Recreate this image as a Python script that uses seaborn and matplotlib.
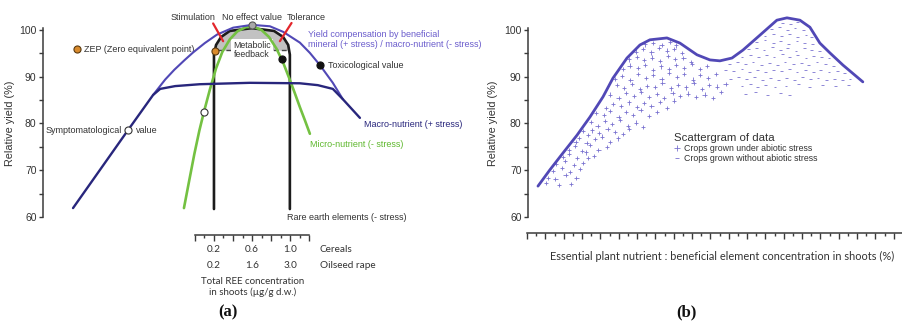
import matplotlib
matplotlib.use("Agg")
import matplotlib.pyplot as plt
import matplotlib.transforms as mtransforms
import numpy as np
import pandas as pd
import seaborn as sns

W, H = 903, 323

# ---------------- Panel (a): conceptual yield-response curves ----------------
# x is a relative concentration index (0-100), y is relative yield (%)
macro_x = [7.2, 20.4, 26.4, 28.1, 31.7, 37.6, 49.6, 61.6, 65.9, 69.5, 71.9, 76.0]
macro_y = [61.9, 78.6, 86.1, 87.4, 88.0, 88.4, 88.7, 88.6, 88.2, 87.4, 85.2, 81.2]

comp_x = [26.4, 29.3, 31.5, 34.0, 36.0, 38.8, 41.7, 45.6, 50.1, 54.4, 57.6, 61.6, 64.0, 66.4, 69.5, 71.9]
comp_y = [86.1, 89.4, 91.5, 93.6, 95.2, 97.2, 99.0, 100.5, 101.1, 100.8, 99.6, 97.3, 95.1, 92.5, 88.7, 85.2]

micro_x = [33.8, 35.0, 36.3, 37.5, 38.6, 40.0, 41.5, 43.0, 44.8, 46.6, 48.6, 50.5, 52.4, 54.2,
           56.0, 57.6, 59.0, 60.3, 61.6, 62.8, 64.0]
micro_y = [61.9, 67.5, 73.5, 78.5, 82.5, 87.2, 91.8, 95.3, 98.0, 99.7, 100.6, 100.7, 100.0, 98.5,
           96.0, 93.0, 89.8, 86.7, 83.5, 80.7, 77.8]

ree_x = [41.0, 41.0, 41.5, 42.7, 44.8, 50.1, 55.4, 57.6, 58.8, 59.2, 59.2]
ree_y = [61.7, 94.7, 96.8, 98.5, 99.8, 100.4, 99.8, 98.5, 96.8, 94.7, 61.7]

feedback_level = 95.7
feedback_span = [42.0, 58.5]

# reference points on the curves
zep_key = (8.2, 95.9)
zep_point = (41.2, 95.5)
no_effect_point = (50.1, 101.1)
tolerance_point = (57.3, 93.8)
toxic_point = (66.4, 92.5)
symptom_points_x = [38.6, 20.4]
symptom_points_y = [82.5, 78.6]

# concentration ruler for panel (a)
cereal_ticks = [0.2, 0.6, 1.0]
cereal_labels = ["0.2", "0.6", "1.0"]
rape_labels = ["0.2", "1.6", "3.0"]

# ---------------- Panel (b): envelope and scattergram ----------------
env_x = [1.09, 2.40, 3.83, 5.36, 6.78, 8.20, 9.29, 10.82, 12.24, 13.33, 15.19, 16.61, 18.47, 19.89,
         20.98, 22.30, 23.50, 25.36, 27.21, 28.31, 29.73, 30.82, 31.91, 33.01, 34.43, 36.61]
env_y = [66.6, 70.1, 73.7, 77.5, 81.4, 85.7, 89.7, 94.0, 96.8, 97.9, 98.3, 97.2, 94.7, 93.6,
         93.4, 94.0, 95.7, 98.9, 102.1, 102.6, 102.1, 100.6, 97.2, 95.1, 92.5, 88.9]

stress_pts = [
    (2.0, 67.2), (3.4, 66.8), (4.7, 67.1),
    (2.2, 68.3), (3.0, 68.2), (4.1, 68.9), (5.3, 68.4),
    (2.7, 69.9), (3.7, 70.4), (4.6, 69.7), (5.7, 70.2),
    (3.1, 71.3), (4.0, 71.9), (5.0, 71.1), (6.0, 71.6), (6.6, 72.6),
    (3.8, 72.8), (4.5, 73.4), (5.4, 72.6), (6.3, 73.8), (7.2, 73.1),
    (4.5, 74.4), (5.1, 75.1), (5.9, 74.2), (6.8, 75.4), (7.7, 74.4), (8.6, 75.0),
    (5.2, 76.0), (5.6, 76.9), (6.4, 75.9), (7.3, 76.6), (8.1, 77.2), (9.0, 76.1), (9.8, 76.8),
    (6.0, 78.4), (6.6, 77.5), (7.0, 78.5), (7.8, 78.0), (8.7, 78.9), (9.5, 78.2), (10.4, 77.8), (11.0, 78.9),
    (6.9, 80.3), (7.6, 79.4), (8.4, 80.6), (9.2, 79.9), (10.1, 80.8), (10.9, 79.5), (11.8, 80.2), (12.6, 79.3),
    (7.4, 82.3), (8.3, 81.8), (9.0, 82.7), (9.9, 81.4), (10.7, 82.5), (11.5, 81.9), (12.3, 82.8), (13.2, 81.6), (14.1, 82.4),
    (8.5, 83.4), (9.3, 84.2), (10.2, 83.7), (11.0, 84.5), (11.9, 83.5), (12.7, 84.3), (13.5, 83.8), (14.4, 84.6),
    (15.2, 83.4), (16.0, 84.9),
    (9.0, 86.2), (9.9, 85.4), (10.7, 86.5), (11.6, 85.9), (12.4, 86.8), (13.2, 85.7), (14.1, 86.3), (14.9, 85.5),
    (15.8, 86.6), (16.6, 85.8), (17.5, 86.4), (18.4, 85.6), (19.3, 86.2), (20.2, 85.5), (21.1, 86.7),
    (9.7, 88.2), (10.5, 87.6), (11.4, 88.5), (12.2, 87.3), (13.0, 88.1), (13.9, 87.8), (14.7, 88.7), (15.6, 87.5),
    (16.4, 88.3), (17.3, 87.7), (18.1, 88.6), (19.0, 87.4), (19.8, 88.2), (20.7, 87.9), (21.6, 88.5),
    (9.5, 89.5), (10.3, 90.2), (11.2, 89.3), (12.0, 90.6), (12.9, 89.8), (13.7, 90.4), (14.6, 89.6), (15.4, 90.8),
    (16.3, 89.9), (17.1, 90.5), (18.0, 89.4), (18.8, 90.3), (19.7, 89.7), (20.6, 90.5),
    (10.4, 91.6), (11.1, 92.4), (12.0, 91.8), (12.8, 92.6), (13.7, 91.5), (14.5, 92.2), (15.4, 91.7), (16.2, 92.5),
    (17.1, 91.9), (17.9, 92.7), (18.8, 91.6), (19.6, 92.3),
    (11.0, 93.7), (11.9, 94.3), (12.7, 93.5), (13.6, 94.1), (14.4, 93.3), (15.3, 94.4), (16.1, 93.8), (17.0, 94.0), (17.8, 93.2),
    (11.8, 95.4), (12.6, 96.0), (13.5, 95.2), (14.3, 96.1), (15.2, 95.6), (16.0, 95.9), (16.8, 95.1),
    (12.8, 96.9), (13.7, 97.3), (14.6, 96.8), (15.5, 97.4), (16.2, 96.7),
]

no_stress_pts = [
    (27.8, 101.6), (28.7, 101.3), (29.5, 101.7),
    (26.6, 100.2), (27.5, 100.6), (28.4, 100.0), (29.2, 100.4), (30.1, 100.1),
    (25.9, 98.8), (26.8, 99.2), (27.7, 98.7), (28.6, 99.1), (29.5, 98.6), (30.4, 99.0), (31.0, 98.5),
    (25.0, 97.4), (25.9, 97.8), (26.8, 97.2), (27.6, 97.6), (28.5, 97.1), (29.4, 97.7), (30.2, 97.3), (31.1, 97.0),
    (24.1, 95.9), (25.0, 96.2), (25.8, 95.7), (26.7, 96.3), (27.6, 95.8), (28.4, 96.1), (29.3, 95.6), (30.2, 96.2),
    (31.0, 95.8), (31.9, 95.5),
    (23.4, 94.3), (24.3, 94.6), (25.2, 94.2), (26.1, 94.7), (26.9, 94.3), (27.8, 94.8), (28.6, 94.2), (29.5, 94.6),
    (30.4, 94.1), (31.2, 94.5), (32.1, 94.2), (32.9, 94.0),
    (22.0, 92.8), (22.9, 93.2), (23.8, 92.7), (24.6, 93.1), (25.5, 92.6), (26.4, 93.0), (27.3, 92.5), (28.1, 93.1),
    (29.0, 92.7), (29.9, 93.0), (30.7, 92.6), (31.6, 93.1), (32.5, 92.8), (33.4, 92.4),
    (21.6, 91.5), (22.5, 91.2), (23.4, 91.6), (24.2, 91.1), (25.1, 91.5), (26.0, 91.0), (26.8, 91.4), (27.7, 91.2),
    (28.6, 91.6), (29.4, 91.0), (30.3, 91.5), (31.2, 91.1), (32.0, 91.4), (32.9, 91.0), (33.8, 91.3), (34.6, 90.8),
    (22.1, 89.6), (23.0, 90.0), (23.9, 89.5), (24.8, 89.9), (25.6, 89.4), (26.5, 89.8), (27.4, 89.3), (28.3, 89.7),
    (29.1, 89.4), (30.0, 89.9), (30.9, 89.5), (31.7, 89.8), (32.6, 89.3), (33.5, 89.6), (34.4, 89.2), (35.2, 89.5),
    (23.4, 88.0), (24.3, 88.4), (25.1, 87.9), (26.0, 88.3), (27.0, 87.8), (28.2, 88.1), (29.6, 88.4), (30.8, 87.9),
    (32.2, 88.3), (33.6, 88.0), (35.0, 88.2),
    (23.8, 86.4), (24.9, 86.8), (26.2, 86.2), (27.6, 86.6), (28.6, 86.0),
]

STRESS = "Crops grown under abiotic stress"
NO_STRESS = "Crops grown without abiotic stress"

# ---------------- colours ----------------
NAVY = "#28267c"
VIOLET = "#5148b6"
VIOLET_TXT = "#6a5ccc"
GREEN = "#74c142"
RED = "#e3262c"
ORANGE = "#d98a2c"
DOT = "#7a72d0"
AXC = "#3a3a3a"
TXT = "#333333"

sns.set_theme(style="white")
plt.rcParams["font.family"] = ["Liberation Sans", "DejaVu Sans"]

fig = plt.figure(figsize=(W / 100, H / 100), dpi=100)


def box(x0, y0, x1, y1):
    """Pixel box (left, top, right, bottom) -> figure rectangle."""
    return [x0 / W, 1 - y1 / H, (x1 - x0) / W, (y1 - y0) / H]


ax_a = fig.add_axes(box(43, 11.3, 460, 231))
ax_b = fig.add_axes(box(528, 11.3, 903, 231))
ruler_a = fig.add_axes(box(195, 235, 309, 260))
ruler_b = fig.add_axes(box(527, 233, 903, 258))

for ax in (ax_a, ax_b):
    ax.set_ylim(57, 104)
    ax.patch.set_alpha(0)
    for s in ("top", "right", "bottom"):
        ax.spines[s].set_visible(False)
    ax.spines["left"].set_bounds(60, 100.4)
    ax.spines["left"].set_color(AXC)
    ax.spines["left"].set_linewidth(1.1)
    ax.set_xticks([])
    ax.set_yticks([60, 70, 80, 90, 100])
    ax.set_yticks([65, 75, 85, 95], minor=True)
    ax.tick_params(axis="y", which="both", left=True, direction="out", length=2.6, width=1,
                   color=AXC, labelsize=7.5, labelcolor=TXT, pad=2)

ax_a.set_xlim(0, 100)
ax_b.set_xlim(0, 41)

# ---- panel (a) drawing ----
# shaded metabolic-feedback cap inside the REE curve
cap_x = np.array(ree_x[1:-1])
cap_y = np.array(ree_y[1:-1])
ax_a.fill_between(cap_x, cap_y, feedback_level, where=cap_y >= feedback_level,
                  interpolate=True, color="#c2c2c2", lw=0, zorder=1)
ax_a.plot(feedback_span, [feedback_level, feedback_level], ls=(0, (3.5, 2.2)), color="#444444",
          lw=1.0, zorder=2)
ax_a.text(50.1, feedback_level, "Metabolic\nfeedback", ha="center", va="center", fontsize=6.3,
          color=TXT, linespacing=0.95, zorder=3,
          bbox=dict(boxstyle="square,pad=0.25", fc="white", ec="none"))

sns.lineplot(x=ree_x, y=ree_y, sort=False, estimator=None, color="#1c1c1c", lw=1.9, ax=ax_a, zorder=4)
sns.lineplot(x=micro_x, y=micro_y, sort=False, estimator=None, color=GREEN, lw=1.9, ax=ax_a, zorder=5)
sns.lineplot(x=comp_x, y=comp_y, sort=False, estimator=None, color=VIOLET, lw=1.5, ax=ax_a, zorder=6)
sns.lineplot(x=macro_x, y=macro_y, sort=False, estimator=None, color=NAVY, lw=1.7, ax=ax_a, zorder=7)

# red pointers
ax_a.plot([40.8, 43.2], [101.4, 97.6], color=RED, lw=1.6, zorder=8)
ax_a.plot([59.6, 56.8], [101.5, 97.6], color=RED, lw=1.6, zorder=8)

# markers
mk = dict(s=26, linewidth=0.8, zorder=9, clip_on=False)
ax_a.scatter(*zep_key, color=ORANGE, edgecolor="#5a3a10", **mk)
ax_a.scatter(*zep_point, color=ORANGE, edgecolor="#5a3a10", **mk)
ax_a.scatter(*no_effect_point, color="#a8a8a8", edgecolor="#555555", **mk)
ax_a.scatter(*tolerance_point, color="#111111", edgecolor="#111111", **mk)
ax_a.scatter(*toxic_point, color="#111111", edgecolor="#111111", **mk)
ax_a.scatter(symptom_points_x, symptom_points_y, color="white", edgecolor="#333333", **mk)

fs = 6.5
ax_a.text(36.0, 102.7, "Stimulation", ha="center", va="center", fontsize=fs, color=TXT)
ax_a.text(50.1, 102.7, "No effect value", ha="center", va="center", fontsize=fs, color=TXT)
ax_a.text(63.1, 102.7, "Tolerance", ha="center", va="center", fontsize=fs, color=TXT)
ax_a.text(9.8, 95.8, "ZEP (Zero equivalent point)", ha="left", va="center", fontsize=fs, color=TXT)
ax_a.text(63.5, 98.0, "Yield compensation by beneficial\nmineral (+ stress) / macro-nutrient (- stress)",
          ha="left", va="center", fontsize=fs, color=VIOLET_TXT, linespacing=1.05)
ax_a.text(68.3, 92.5, "Toxicological value", ha="left", va="center", fontsize=fs, color=TXT)
ax_a.text(77.0, 79.7, "Macro-nutrient (+ stress)", ha="left", va="center", fontsize=fs, color=NAVY)
ax_a.text(64.0, 75.6, "Micro-nutrient (- stress)", ha="left", va="center", fontsize=fs, color="#5fb82e")
ax_a.text(18.9, 78.6, "Symptomatological", ha="right", va="center", fontsize=fs, color=TXT)
ax_a.text(22.3, 78.6, "value", ha="left", va="center", fontsize=fs, color=TXT)
ax_a.text(58.5, 59.8, "Rare earth elements (- stress)", ha="left", va="center", fontsize=fs, color=TXT)

# ---- panel (b) drawing ----
df = pd.DataFrame(
    [(x, y, STRESS) for x, y in stress_pts] + [(x, y, NO_STRESS) for x, y in no_stress_pts],
    columns=["conc", "yield", "group"],
)
sns.scatterplot(data=df, x="conc", y="yield", style="group", size="group",
                markers={STRESS: "+", NO_STRESS: "_"}, sizes={STRESS: 9, NO_STRESS: 4},
                color=DOT, linewidth=0.6, ax=ax_b, zorder=3)
sns.lineplot(x=env_x, y=env_y, sort=False, estimator=None, color=VIOLET, lw=2.0, ax=ax_b, zorder=4)

for ax in (ax_a, ax_b):
    ax.set_xlabel("")
    ax.set_ylabel("Relative yield (%)", fontsize=7.8, color=TXT)
ax_a.yaxis.set_label_coords(-0.067, 0.49)
ax_b.yaxis.set_label_coords(-0.08, 0.49)

handles, labels = ax_b.get_legend_handles_labels()
leg = ax_b.legend(handles, labels, title="Scattergram of data", loc="upper left",
                  bbox_to_anchor=(674 / W, 1 - 133 / H), bbox_transform=fig.transFigure,
                  frameon=False, fontsize=6.3, title_fontsize=8.2, alignment="left",
                  handlelength=0.7, handletextpad=0.45, labelspacing=0.1, borderpad=0,
                  borderaxespad=0, markerscale=1.3)
leg.get_title().set_color(TXT)
for t in leg.get_texts():
    t.set_color(TXT)

# ---- concentration rulers ----
for r, lim, major, minor in (
    (ruler_a, (0, 1.2), np.arange(0, 1.21, 0.2), np.arange(0.1, 1.2, 0.2)),
    (ruler_b, (0, 41), np.arange(0, 41, 2), np.arange(1, 42, 2)),
):
    r.set_xlim(*lim)
    r.set_ylim(0, 1)
    r.patch.set_alpha(0)
    for s in ("left", "right", "bottom"):
        r.spines[s].set_visible(False)
    r.spines["top"].set_color(AXC)
    r.spines["top"].set_linewidth(1.1)
    r.set_yticks([])
    r.set_xticks(major)
    r.set_xticks(minor, minor=True)
    r.tick_params(axis="x", which="both", top=True, bottom=False, labeltop=False,
                  labelbottom=False, direction="in", color=AXC, width=1)
    r.tick_params(axis="x", which="major", length=4.2)
    r.tick_params(axis="x", which="minor", length=2.0)

ruler_font = ["Lato", "DejaVu Sans"]
trans = mtransforms.blended_transform_factory(ruler_a.transData, fig.transFigure)
for pos, c_lab, r_lab in zip(cereal_ticks, cereal_labels, rape_labels):
    ruler_a.text(pos, 1 - 249 / H, c_lab, transform=trans, ha="center", va="center",
                 fontsize=7.2, family=ruler_font, color=TXT)
    ruler_a.text(pos, 1 - 265 / H, r_lab, transform=trans, ha="center", va="center",
                 fontsize=7.2, family=ruler_font, color=TXT)
fig.text(320 / W, 1 - 249 / H, "Cereals", ha="left", va="center", fontsize=7.2,
         family=ruler_font, color=TXT)
fig.text(320 / W, 1 - 265 / H, "Oilseed rape", ha="left", va="center", fontsize=7.2,
         family=ruler_font, color=TXT)
fig.text(253 / W, 1 - 287 / H, "Total REE concentration\nin shoots (µg/g d.w.)", ha="center",
         va="center", fontsize=7.0, family=ruler_font, color=TXT, linespacing=1.2)
fig.text(722 / W, 1 - 256 / H,
         "Essential plant nutrient : beneficial element concentration in shoots (%)",
         ha="center", va="center", fontsize=7.9, family=ruler_font, color=TXT)

# panel letters
for xp, lab in ((228, "(a)"), (686, "(b)")):
    fig.text(xp / W, 1 - 312 / H, lab, ha="center", va="center", fontsize=12,
             family=["Liberation Serif", "DejaVu Serif"], fontweight="bold", color="#111111")

fig.savefig("out.png", dpi=100)
